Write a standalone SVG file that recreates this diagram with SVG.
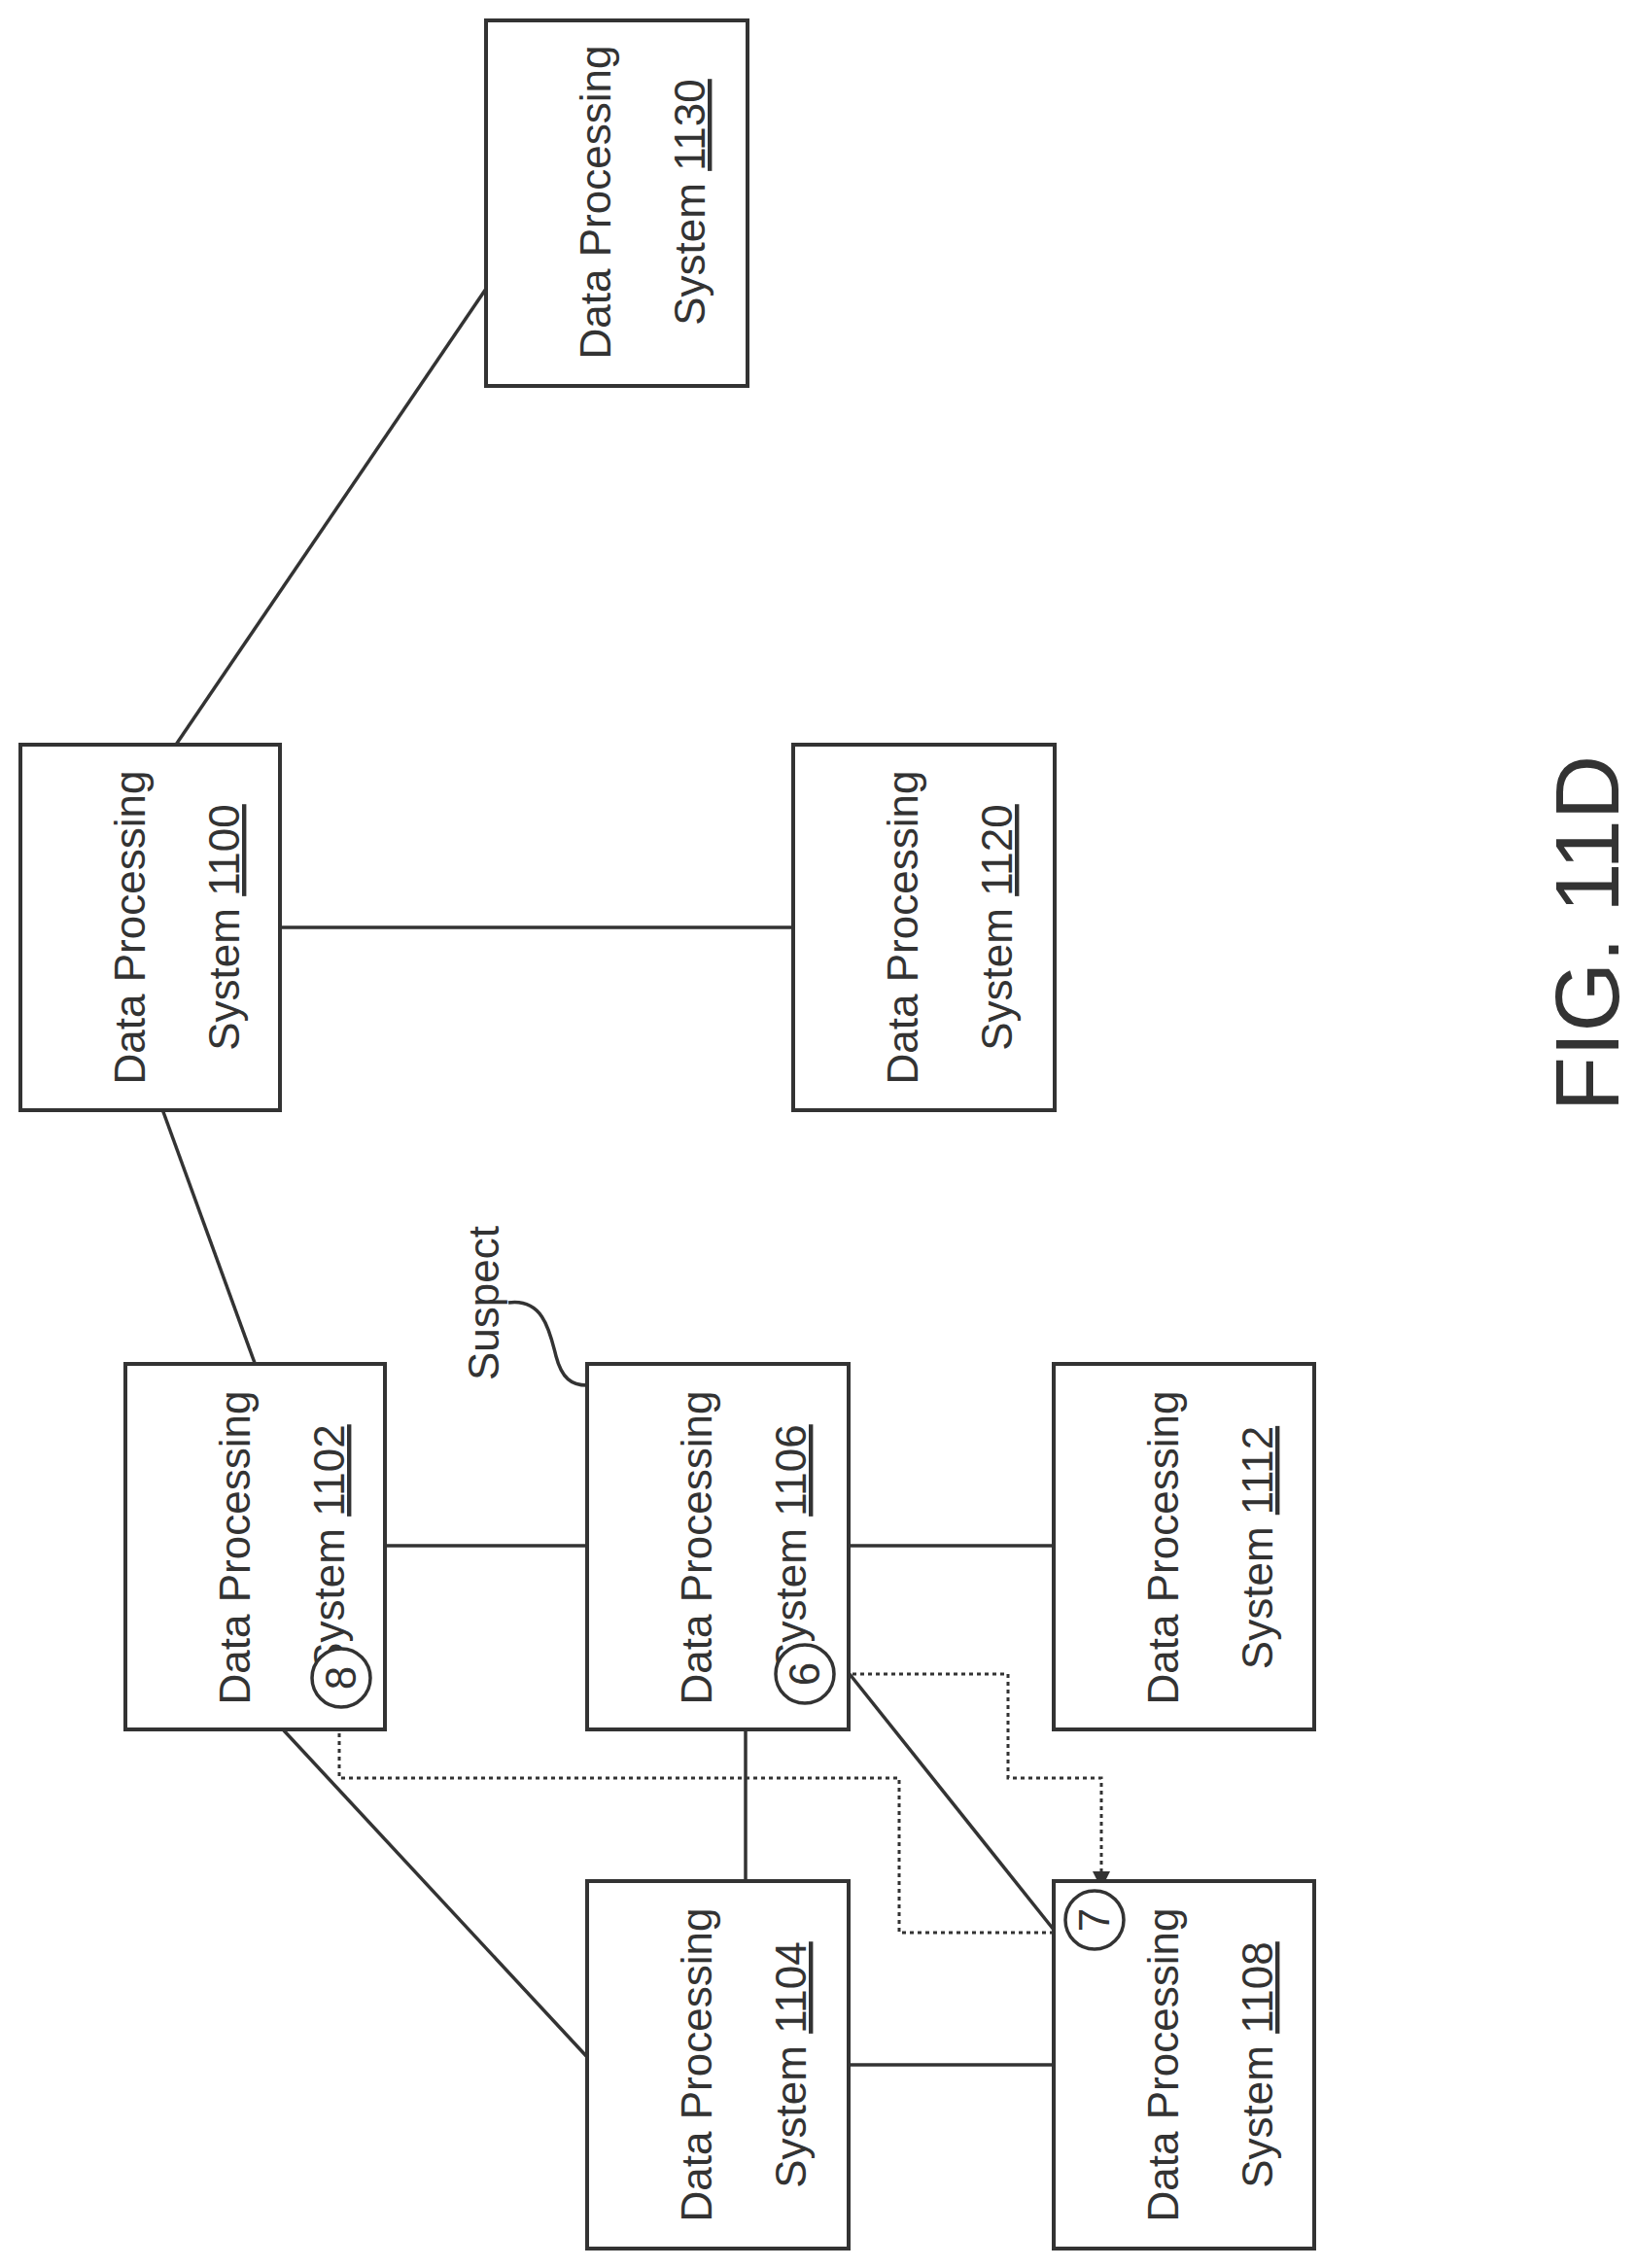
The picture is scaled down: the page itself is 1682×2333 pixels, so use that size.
<svg xmlns="http://www.w3.org/2000/svg" width="1682" height="2333" viewBox="0 0 1682 2333">
<style>
.box{fill:#fff;stroke:#333;stroke-width:4}
.ln{stroke:#333;stroke-width:3.5;fill:none}
.dot{stroke:#333;stroke-width:3;fill:none;stroke-dasharray:4 4}
.t{font-family:"Liberation Sans",Arial,sans-serif;font-size:44px;fill:#333;text-anchor:middle}
.u{text-decoration:underline}
.c{fill:#fff;stroke:#333;stroke-width:3.5}
</style>
<defs>
<marker id="ah" viewBox="0 0 10 10" refX="10" refY="5" markerWidth="6" markerHeight="6" orient="auto" markerUnits="strokeWidth">
<path d="M0,0 L10,5 L0,10 z" fill="#333"/>
</marker>
</defs>
<g id="connectors">
<line class="ln" x1="181" y1="766" x2="500" y2="297"/>
<line class="ln" x1="288" y1="954" x2="816" y2="954"/>
<line class="ln" x1="167" y1="1141" x2="262" y2="1402"/>
<line class="ln" x1="396" y1="1590" x2="604" y2="1590"/>
<line class="ln" x1="873" y1="1590" x2="1084" y2="1590"/>
<line class="ln" x1="873" y1="2124" x2="1084" y2="2124"/>
<line class="ln" x1="767" y1="1778" x2="767" y2="1934"/>
<line class="ln" x1="291" y1="1779" x2="605" y2="2117"/>
<line class="ln" x1="874" y1="1722" x2="1084" y2="1985"/>
<polyline class="dot" points="877,1722 1037,1722 1037,1829 1133,1829 1133,1943" marker-end="url(#ah)"/>
<polyline class="dot" points="1084,1988 925,1988 925,1829 349,1829 349,1760" marker-end="url(#ah)"/>
<path class="ln" stroke-width="2.5" d="M523,1340 C560,1335 566,1372 572,1395 C578,1418 588,1425 604,1425"/>
</g>
<g id="n1130"><rect class="box" x="500" y="21" width="269" height="376"/>
<text class="t" transform="translate(628,208) rotate(-90)">Data Processing</text>
<text class="t" transform="translate(725,208) rotate(-90)">System <tspan class="u">1130</tspan></text></g>
<g id="n1100"><rect class="box" x="21" y="766" width="267" height="376"/>
<text class="t" transform="translate(149,954) rotate(-90)">Data Processing</text>
<text class="t" transform="translate(246,954) rotate(-90)">System <tspan class="u">1100</tspan></text></g>
<g id="n1120"><rect class="box" x="816" y="766" width="269" height="376"/>
<text class="t" transform="translate(944,954) rotate(-90)">Data Processing</text>
<text class="t" transform="translate(1041,954) rotate(-90)">System <tspan class="u">1120</tspan></text></g>
<g id="n1102"><rect class="box" x="129" y="1403" width="267" height="376"/>
<text class="t" transform="translate(257,1592) rotate(-90)">Data Processing</text>
<text class="t" transform="translate(354,1592) rotate(-90)">System <tspan class="u">1102</tspan></text>
<circle class="c" cx="351" cy="1726" r="30"/>
<text class="t" transform="translate(366,1726) rotate(-90)">8</text></g>
<g id="n1106"><rect class="box" x="604" y="1403" width="269" height="376"/>
<text class="t" transform="translate(732,1592) rotate(-90)">Data Processing</text>
<text class="t" transform="translate(829,1592) rotate(-90)">System <tspan class="u">1106</tspan></text>
<circle class="c" cx="828" cy="1722" r="30"/>
<text class="t" transform="translate(843,1722) rotate(-90)">6</text></g>
<g id="n1112"><rect class="box" x="1084" y="1403" width="268" height="376"/>
<text class="t" transform="translate(1212,1592) rotate(-90)">Data Processing</text>
<text class="t" transform="translate(1309,1592) rotate(-90)">System <tspan class="u">1112</tspan></text></g>
<g id="n1104"><rect class="box" x="604" y="1935" width="269" height="378"/>
<text class="t" transform="translate(732,2124) rotate(-90)">Data Processing</text>
<text class="t" transform="translate(829,2124) rotate(-90)">System <tspan class="u">1104</tspan></text></g>
<g id="n1108"><rect class="box" x="1084" y="1935" width="268" height="378"/>
<text class="t" transform="translate(1212,2124) rotate(-90)">Data Processing</text>
<text class="t" transform="translate(1309,2124) rotate(-90)">System <tspan class="u">1108</tspan></text>
<circle class="c" cx="1126" cy="1975" r="30"/>
<text class="t" transform="translate(1141,1975) rotate(-90)">7</text></g>
<g id="suspect"><text class="t" style="text-anchor:start" transform="translate(513,1420) rotate(-90)">Suspect</text></g>
<g id="figlabel"><text class="t" style="font-size:92px" transform="translate(1665,960) rotate(-90)">FIG. 11D</text></g>
</svg>
